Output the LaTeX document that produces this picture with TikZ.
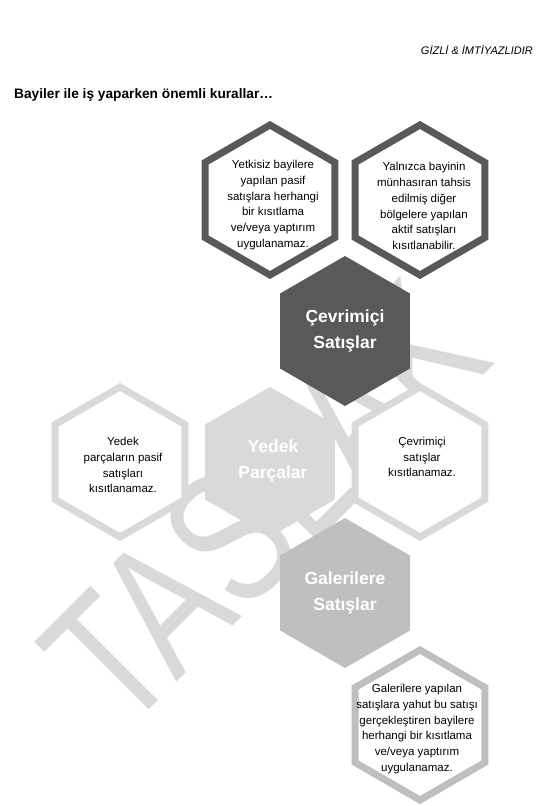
\documentclass[tikz,border=0pt]{standalone}
\usepackage{fontspec}
\setmainfont{Liberation Sans}
\usepackage{tikz,graphicx}
\usetikzlibrary{shapes.geometric}
\definecolor{dkgrey}{HTML}{595959}
\definecolor{mdgrey}{HTML}{BFBFBF}
\definecolor{ltgrey}{HTML}{D9D9D9}
\def\bodyfont{\fontsize{11.5}{15.8}\selectfont}
\def\topicfont{\bfseries\fontsize{17.5}{26}\selectfont}
\tikzstyle{hex} = [regular polygon, regular polygon sides=6, shape border rotate=30, minimum size=150pt, inner sep=0pt]
\tikzstyle{darkhex} = [hex, fill=dkgrey]
\tikzstyle{midhex} = [hex, fill=mdgrey]
\tikzstyle{lighthex} = [hex, fill=ltgrey]
\tikzstyle{ringhex} = [hex, fill=white, line width=7pt]
\tikzstyle{ruletxt} = [align=center, text=black, font=\bodyfont, inner sep=0pt]
\tikzstyle{topic} = [align=center, text=white, font=\topicfont, inner sep=0pt]
\tikzstyle{wmark} = [rotate=45, anchor=base, inner sep=0pt, text=ltgrey, font=\fontsize{187}{187}\selectfont]

\begin{document}
\begin{tikzpicture}[x=1pt, y=-1pt]

  \useasboundingbox (0,0) rectangle (545,806);

  \node (head) [anchor=base east, inner sep=0pt, font=\itshape\fontsize{11}{13}\selectfont] at (533,54) {GİZLİ \& İMTİYAZLIDIR};
  \node (title) [anchor=base west, inner sep=0pt, font=\bfseries\fontsize{13.7}{16}\selectfont] at (14,98) {Bayiler ile iş yaparken önemli kurallar…};

  % watermark behind the cells
  \node (wm) [wmark] at (310,549) {\scalebox{0.75}[1]{TASLAK}};

  \node (online) [darkhex] at (345,331) {};
  \node (passive) [ringhex, draw=dkgrey] at (270,200) {};
  \node (active) [ringhex, draw=dkgrey] at (420,200) {};
  \node (parts) [lighthex] at (270,462) {};
  \node (partsrule) [ringhex, draw=ltgrey] at (120,462) {};
  \node (onlinerule) [ringhex, draw=ltgrey] at (420,462) {};
  \node (gallery) [midhex] at (345,593) {};
  \node (galleryrule) [ringhex, draw=mdgrey] at (420,725) {};

  \node (onlinetxt) [topic] at (online.center) {Çevrimiçi\\Satışlar};
  \node (partstxt) [topic, xshift=3pt, yshift=1pt] at (parts.center) {Yedek\\Parçalar};
  \node (gallerytxt) [topic] at (gallery.center) {Galerilere\\Satışlar};

  \node (passivetxt) [ruletxt, xshift=3pt, yshift=-5pt] at (passive.center)
  {Yetkisiz bayilere\\yapılan pasif\\satışlara herhangi\\bir kısıtlama\\ve/veya yaptırım\\uygulanamaz.};
  \node (activetxt) [ruletxt, xshift=4pt, yshift=-6pt] at (active.center)
  {Yalnızca bayinin\\münhasıran tahsis\\edilmiş diğer\\bölgelere yapılan\\aktif satışları\\kısıtlanabilir.};
  \node (partsruletxt) [ruletxt, xshift=3pt, yshift=-3pt] at (partsrule.center)
  {Yedek\\parçaların pasif\\satışları\\kısıtlanamaz.};
  \node (onlineruletxt) [ruletxt, xshift=2pt, yshift=5pt] at (onlinerule.center)
  {Çevrimiçi\\satışlar\\kısıtlanamaz.};
  \node (galleryruletxt) [ruletxt, xshift=-3pt, yshift=-4pt] at (galleryrule.center)
  {Galerilere yapılan\\satışlara yahut bu satışı\\gerçekleştiren bayilere\\herhangi bir kısıtlama\\ve/veya yaptırım\\uygulanamaz.};

\end{tikzpicture}
\end{document}
